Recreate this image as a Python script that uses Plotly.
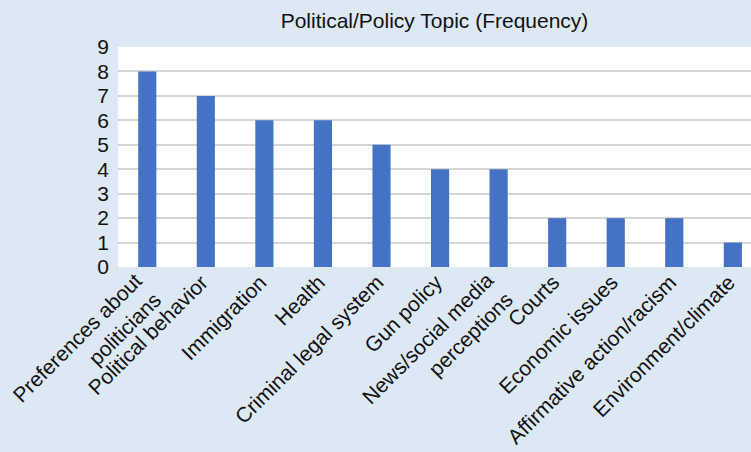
import plotly.graph_objects as go

categories = [
    "Preferences about<br>politicians",
    "Political behavior",
    "Immigration",
    "Health",
    "Criminal legal system",
    "Gun policy",
    "News/social media<br>perceptions",
    "Courts",
    "Economic issues",
    "Affirmative action/racism",
    "Environment/climate",
]
frequency = [8, 7, 6, 6, 5, 4, 4, 2, 2, 2, 1]
y_ticks = list(range(0, 10))

BG = "#dde8f5"
BAR = "#4472c4"
FONT = "Liberation Sans, Arial, sans-serif"
TXT = "#111111"

positions = list(range(len(categories)))
# single-line labels go on the axis; two-line labels are placed as annotations
ticktext = ["" if "<br>" in c else c for c in categories]

fig = go.Figure(
    go.Bar(
        x=positions,
        y=frequency,
        marker=dict(color=BAR, line=dict(width=0)),
        width=0.31,
    )
)

for pos, label in zip(positions, categories):
    if "<br>" in label:
        fig.add_annotation(
            x=pos,
            xref="x",
            y=0,
            yref="paper",
            text=label,
            textangle=-45,
            align="right",
            xanchor="right",
            yanchor="top",
            xshift=21,
            yshift=1,
            showarrow=False,
            font=dict(family=FONT, size=21, color=TXT),
        )

fig.update_layout(
    width=751,
    height=452,
    margin=dict(l=118, r=0, t=47, b=185),
    paper_bgcolor=BG,
    plot_bgcolor="white",
    showlegend=False,
    title=dict(
        text="Political/Policy Topic (Frequency)",
        x=0.5,
        xref="paper",
        xanchor="center",
        y=0.955,
        yref="container",
        yanchor="middle",
        font=dict(family=FONT, size=21, color=TXT),
    ),
    font=dict(family=FONT, color=TXT),
)

fig.update_xaxes(
    tickmode="array",
    tickvals=positions,
    ticktext=ticktext,
    tickangle=-45,
    range=[-0.5, 10.31],
    showgrid=False,
    zeroline=False,
    showline=False,
    ticks="",
    ticklabelshift=-4,
    ticklabelstandoff=-2,
    tickfont=dict(family=FONT, size=21, color=TXT),
)

fig.update_yaxes(
    range=[0, 9],
    tickvals=y_ticks,
    showgrid=True,
    gridcolor="#d6d6d6",
    gridwidth=2,
    zeroline=False,
    showline=False,
    ticks="",
    ticklabelstandoff=8,
    tickfont=dict(family=FONT, size=21, color=TXT),
)

fig.write_html("out.html")
